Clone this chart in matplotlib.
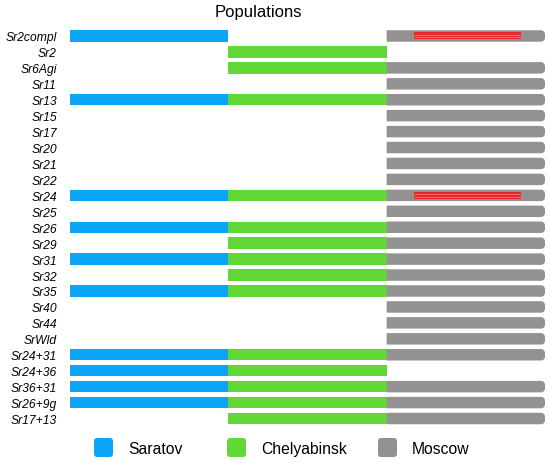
import matplotlib
matplotlib.use('Agg')
import matplotlib.pyplot as plt
import numpy as np
from matplotlib.patches import FancyBboxPatch, Rectangle, Polygon
from matplotlib.transforms import IdentityTransform

plt.rcParams['font.family'] = ['Liberation Sans', 'DejaVu Sans']

# data: one row per gene, 1 = present in that population
genes = ['Sr2compl', 'Sr2', 'Sr6Agi', 'Sr11', 'Sr13', 'Sr15', 'Sr17', 'Sr20',
         'Sr21', 'Sr22', 'Sr24', 'Sr25', 'Sr26', 'Sr29', 'Sr31', 'Sr32',
         'Sr35', 'Sr40', 'Sr44', 'SrWld', 'Sr24+31', 'Sr24+36', 'Sr36+31',
         'Sr26+9g', 'Sr17+13']
saratov =     [1, 0, 0, 0, 1, 0, 0, 0, 0, 0, 1, 0, 1, 0, 1, 0, 1, 0, 0, 0, 1, 1, 1, 1, 0]
chelyabinsk = [0, 1, 1, 0, 1, 0, 0, 0, 0, 0, 1, 0, 1, 1, 1, 1, 1, 0, 0, 0, 1, 1, 1, 1, 1]
moscow =      [1, 0, 1, 1, 1, 1, 1, 1, 1, 1, 1, 1, 1, 1, 1, 1, 1, 1, 1, 1, 1, 0, 1, 1, 1]
# rows with the red mark inside the Moscow bar
red_marked = ['Sr2compl', 'Sr24']
red_span = (2.17, 2.85)

populations = ['Saratov', 'Chelyabinsk', 'Moscow']
colors = ['#0AA5F6', '#61D836', '#929292']

fig = plt.figure(figsize=(5.5, 4.64), dpi=100)
ax = fig.add_axes([70 / 550, 0.0787, 475 / 550, 0.9375 - 0.0787])

bar_h = 0.72
ys = list(range(len(genes)))

# Saratov and Chelyabinsk columns
for col, flags in enumerate([saratov, chelyabinsk]):
    for y, f in zip(ys, flags):
        if f:
            ax.barh(y, 1.0, left=col, height=bar_h, color=colors[col], linewidth=0)

# Moscow column, square on the left, rounded on the right
rx = 4 * 3 / 475      # ~4 px corner radius in data units
ry = 4 / 15.94
t = np.linspace(0, np.pi / 2, 8)
for y, f in zip(ys, moscow):
    if f:
        y0, y1 = y - bar_h / 2, y + bar_h / 2
        lower = np.column_stack([3 - rx + rx * np.sin(t), y0 + ry - ry * np.cos(t)])
        upper = np.column_stack([3 - rx + rx * np.cos(t), y1 - ry + ry * np.sin(t)])
        pts = np.vstack([[[2.0, y0]], lower, upper, [[2.0, y1]]])
        ax.add_patch(Polygon(pts, closed=True, facecolor=colors[2], edgecolor='none'))

for g in red_marked:
    y = genes.index(g)
    x0, x1 = red_span
    ax.add_patch(Rectangle((x0, y - 0.22), x1 - x0, 0.44,
                           facecolor='#E8262B', edgecolor='none'))
    for dy in (-0.08, 0.08):
        ax.plot([x0, x1], [y + dy, y + dy], color='#F37B7B', lw=0.6,
                solid_capstyle='butt')

ax.set_xlim(0, 3)
ax.set_ylim(len(genes) - 0.5, -0.5)
ax.set_xticks([])
ax.set_yticks(ys)
ax.set_yticklabels(genes, fontstyle='italic', fontsize=8.7)
ax.tick_params(axis='y', length=0, pad=9.5)
for s in ax.spines.values():
    s.set_visible(False)

fig.text(258 / 550, 1 - 17.5 / 464, 'Populations', ha='center',
         va='baseline', fontsize=12)

# legend drawn in pixel coordinates
sq_left = [94, 227, 378]
txt_left = [128, 261, 412]
for name, c, sx, tx in zip(populations, colors, sq_left, txt_left):
    p = FancyBboxPatch((sx, 464 - 458), 19, 19,
                       boxstyle='round,pad=0,rounding_size=3',
                       facecolor=c, edgecolor='none',
                       transform=IdentityTransform())
    fig.add_artist(p)
    fig.text(tx / 550, 9.5 / 464, name, ha='left', va='baseline', fontsize=11.3)

fig.savefig('out.png', dpi=100)
